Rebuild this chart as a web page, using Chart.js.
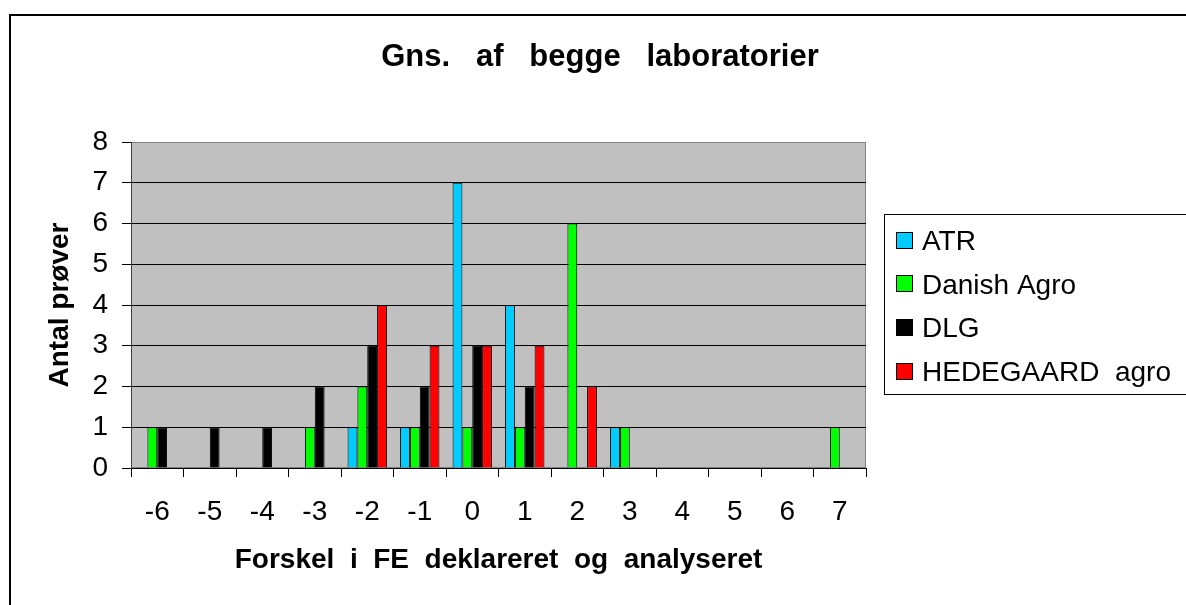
<!DOCTYPE html>
<html lang="da">
<head>
    <meta charset="UTF-8" />
    <title>Gns. af begge laboratorier</title>
    <script src="https://cdn.jsdelivr.net/npm/chart.js"></script>
    <style>
        body {
            margin: 0;
            background: #fff;
        }

        #wrap {
            width: 1186px;
            height: 605px;
        }
    </style>
</head>
<body>
    <div id="wrap"><canvas id="chart" width="1186" height="605"></canvas></div>

    <script>
        // data
        const categories = ['-6', '-5', '-4', '-3', '-2', '-1', '0', '1', '2', '3', '4', '5', '6', '7'];
        const atr        = [0, 0, 0, 0, 1, 1, 7, 4, 0, 1, 0, 0, 0, 0];
        const danishAgro = [1, 0, 0, 1, 2, 1, 1, 1, 6, 1, 0, 0, 0, 1];
        const dlg        = [1, 1, 1, 2, 3, 2, 3, 2, 0, 0, 0, 0, 0, 0];
        const hedegaard  = [0, 0, 0, 0, 4, 3, 3, 3, 2, 0, 0, 0, 0, 0];
        const seriesNames = ['ATR', 'Danish Agro', 'DLG', 'HEDEGAARD  agro'];
        const seriesColors = ['#00ccff', '#00ff00', '#000000', '#ff0000'];
        const yMin = 0, yMax = 8, yStep = 1;

        const titleText = 'Gns.   af   begge   laboratorier';
        const xTitle = 'Forskel  i  FE  deklareret  og  analyseret';
        const yTitle = 'Antal prøver';

        const FONT = '"Liberation Sans", Arial, sans-serif';

        // grey plot area, frame, title and legend box like the old Excel chart
        const excelLook = {
            id: 'excelLook',
            beforeDraw(chart) {
                const { ctx, chartArea: a } = chart;
                ctx.save();
                ctx.fillStyle = '#c0c0c0';
                ctx.fillRect(a.left, a.top, a.right - a.left, a.bottom - a.top);
                ctx.strokeStyle = '#808080';
                ctx.lineWidth = 1;
                ctx.strokeRect(a.left + 0.5, a.top + 0.5, a.right - a.left - 1, a.bottom - a.top - 1);
                ctx.restore();
            },
            afterDraw(chart) {
                const ctx = chart.ctx;
                ctx.save();

                // outer frame
                ctx.fillStyle = '#000';
                ctx.fillRect(9, 14, 2, 600);
                ctx.fillRect(9, 14, 1180, 2);

                // title
                ctx.font = 'bold 31px ' + FONT;
                ctx.textAlign = 'center';
                ctx.textBaseline = 'alphabetic';
                ctx.fillText(titleText, 600, 66);

                // legend
                ctx.strokeStyle = '#000';
                ctx.lineWidth = 1;
                ctx.strokeRect(884.5, 214.5, 320, 180);
                ctx.font = '28px ' + FONT;
                ctx.textAlign = 'left';
                chart.data.datasets.forEach((ds, i) => {
                    const cy = 240 + i * 43.7;
                    ctx.fillStyle = ds.backgroundColor;
                    ctx.fillRect(896, Math.round(cy - 8.5), 17, 17);
                    ctx.strokeRect(896.5, Math.round(cy - 8.5) + 0.5, 16, 16);
                    ctx.fillStyle = '#000';
                    ctx.fillText(ds.label, 922, cy + 10);
                });

                ctx.restore();
            }
        };

        const seriesData = [atr, danishAgro, dlg, hedegaard];

        new Chart(document.getElementById('chart'), {
            type: 'bar',
            data: {
                labels: categories,
                datasets: seriesData.map((d, i) => ({
                    label: seriesNames[i],
                    data: d,
                    backgroundColor: seriesColors[i],
                    borderColor: '#000',
                    borderWidth: 1,
                    categoryPercentage: 0.75,
                    barPercentage: 1
                }))
            },
            options: {
                responsive: false,
                animation: false,
                devicePixelRatio: 1,
                layout: { padding: { left: 39, top: 142, right: 320, bottom: 24 } },
                plugins: {
                    legend: { display: false },
                    title: { display: false },
                    tooltip: { enabled: false }
                },
                scales: {
                    x: {
                        grid: {
                            offset: true,
                            drawOnChartArea: false,
                            tickLength: 9,
                            color: '#000'
                        },
                        border: { color: '#000', width: 1 },
                        ticks: {
                            color: '#000',
                            font: { family: FONT, size: 28 },
                            padding: 18,
                            maxRotation: 0,
                            autoSkip: false
                        },
                        title: {
                            display: true,
                            text: xTitle,
                            color: '#000',
                            font: { family: FONT, size: 28, weight: 'bold' }
                        },
                        afterFit(scale) { scale.height = 113; }
                    },
                    y: {
                        min: yMin,
                        max: yMax,
                        grid: {
                            color: c => c.tick && c.tick.value === yMax ? '#808080' : '#000',
                            tickColor: '#000',
                            tickLength: 9
                        },
                        border: { color: '#404040', width: 1 },
                        ticks: {
                            stepSize: yStep,
                            color: '#000',
                            font: { family: FONT, size: 28 },
                            padding: 14
                        },
                        title: {
                            display: true,
                            text: yTitle,
                            color: '#000',
                            font: { family: FONT, size: 28, weight: 'bold' }
                        },
                        afterFit(scale) { scale.width = 92; }
                    }
                }
            },
            plugins: [excelLook]
        });
    </script>
</body>
</html>
